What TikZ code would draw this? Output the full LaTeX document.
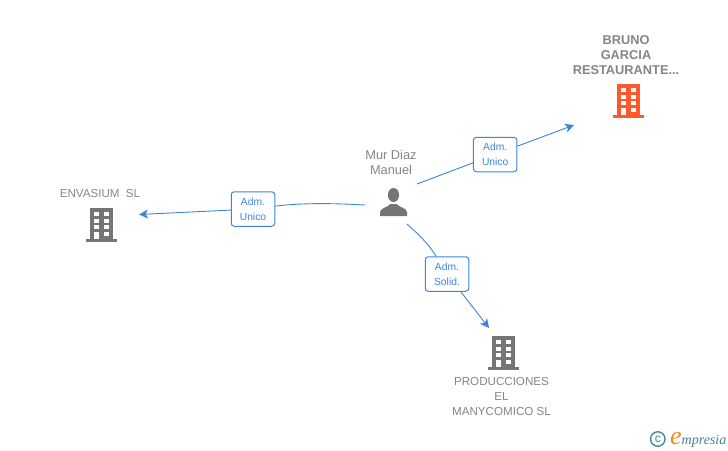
\documentclass[tikz,border=0pt]{standalone}
\usepackage{fontspec}
\setmainfont{Liberation Sans}
\newfontfamily\logofont{Liberation Serif}
\usetikzlibrary{arrows.meta}
\definecolor{linkblue}{HTML}{3C85DD}
\definecolor{icongray}{HTML}{757575}
\definecolor{textgray}{HTML}{858585}
\definecolor{iconred}{HTML}{FF5A2B}
\definecolor{logoteal}{HTML}{3F8296}
\definecolor{logoorange}{HTML}{F08A1E}
\tikzset{
	rolebox/.style={draw=linkblue,fill=white,line width=1pt,rounded corners=3pt,minimum width=43.5pt,minimum height=34.5pt,inner sep=0pt,align=center,text=linkblue,font=\fontsize{10.3}{15}\selectfont},
	namelabel/.style={align=center,text=textgray,inner sep=0pt,font=\fontsize{11.6}{15}\selectfont},
	bignamelabel/.style={namelabel,font=\fontsize{12.8}{15}\selectfont},
	boldlabel/.style={namelabel,font=\fontsize{12.8}{15}\selectfont\bfseries},
	link/.style={draw=linkblue,line width=0.9pt},
	linkarrow/.style={link,-{Stealth[length=9pt,width=9pt,inset=2.5pt]}},
	building/.pic={
		\fill[pic actions] (-11.5,-17) rectangle (11.5,14);
		\fill[pic actions] (-15.5,14) rectangle (15.5,17);
		\foreach \rowy in {-13,-6.5,0}{
			\fill[white] (-7.5,\rowy) rectangle (-2.5,\rowy+4);
			\fill[white] (2.5,\rowy) rectangle (7.5,\rowy+4);
		}
		\fill[white] (-7.5,6.5) rectangle (-2.5,14);
		\fill[white] (2.5,6.5) rectangle (7.5,10.5);
	},
	personicon/.pic={
		\fill[pic actions] (0,-21) ellipse (5.6 and 7);
		\fill[pic actions] (-13.5,0) -- (-13.5,-4) .. controls (-13,-8) and (-7,-8) .. (-3,-12) -- (3,-12) .. controls (7,-8) and (13,-8) .. (13.5,-4) -- (13.5,0) -- cycle;
	}
}
\begin{document}
\begin{tikzpicture}[x=1pt,y=-1pt]
	\useasboundingbox (0,0) rectangle (728,450);
	% people and companies
	\pic[fill=icongray] at (393.5,216) {personicon};
	\pic[fill=iconred] at (628.5,101) {building};
	\pic[fill=icongray] at (101.5,225) {building};
	\pic[fill=icongray] at (503.5,353) {building};
	\node[bignamelabel] (murdiaz) at (391,162.5) {Mur Diaz\\Manuel};
	\node[boldlabel] (bruno) at (626,55) {BRUNO\\GARCIA\\RESTAURANTE...};
	\node[namelabel] (envasium) at (100,194) {ENVASIUM\ \ SL};
	\node[namelabel] (producciones) at (501.5,397) {PRODUCCIONES\\EL\\MANYCOMICO SL};
	% role boxes
	\node[rolebox] (admbruno) at (495.2,154.5) {Adm.\\Unico};
	\node[rolebox] (admenvasium) at (253,209) {Adm.\\Unico};
	\node[rolebox] (admprod) at (447,274) {Adm.\\Solid.};
	% free ends
	\coordinate (brunostart) at (417,184);
	\coordinate (brunoend) at (574,125);
	\coordinate (envstart) at (365,205);
	\coordinate (envend) at (139,214.5);
	\coordinate (prodstart) at (407,224);
	\coordinate (prodend) at (489,328);
	% links
	\draw[link] (brunostart) -- (admbruno);
	\draw[linkarrow] (admbruno) -- (brunoend);
	\draw[link] (envstart) .. controls (330,203) and (300,203) .. (admenvasium);
	\draw[linkarrow] (admenvasium) -- (envend);
	\draw[link] (prodstart) .. controls (418,234) and (428,243) .. (admprod);
	\draw[linkarrow] (admprod) -- (prodend);
	% logo
	\node[draw=logoteal,line width=1.3pt,circle,minimum size=14.5pt,inner sep=0pt,text=logoteal,font=\fontsize{12}{12}\selectfont] (copymark) at (657.8,439) {c};
	\node[anchor=base west,inner sep=0pt,text=logoteal,font=\logofont\itshape\fontsize{14}{14}\selectfont] (logotext) at (670,444) {\textcolor{logoorange}{\fontsize{26}{26}\selectfont e}mpresia};
\end{tikzpicture}
\end{document}
